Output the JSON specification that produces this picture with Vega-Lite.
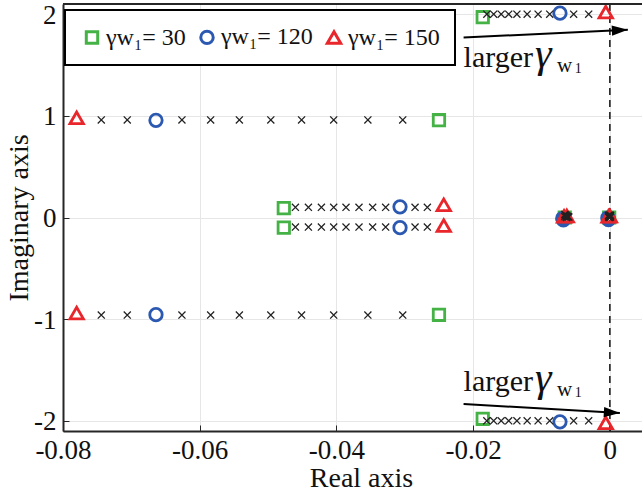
{
  "$schema": "https://vega.github.io/schema/vega-lite/v6.json",
  "width": 579,
  "height": 427,
  "autosize": {"type": "none"},
  "padding": {"left": 63, "top": 4, "right": 0, "bottom": 64},
  "background": "white",
  "config": {
    "font": "Liberation Serif",
    "view": {"stroke": null},
    "axis": {
      "grid": true,
      "gridColor": "#e6e6e6",
      "gridWidth": 1,
      "domainColor": "#262626",
      "domainWidth": 2,
      "tickColor": "#262626",
      "tickSize": -6,
      "tickWidth": 1,
      "labelFont": "Liberation Serif",
      "labelFontSize": 27,
      "labelColor": "#111111",
      "labelFlush": false,
      "labelOverlap": false,
      "labelBound": false,
      "titleFont": "Liberation Serif",
      "titleFontSize": 28,
      "titleFontWeight": "normal",
      "titleColor": "#111111"
    },
    "legend": {
      "labelFont": "Liberation Serif",
      "labelFontSize": 24,
      "labelColor": "#111111",
      "strokeColor": "black",
      "strokeWidth": 2,
      "fillColor": "white",
      "padding": 15,
      "columnPadding": 8,
      "symbolStrokeWidth": 3,
      "labelOffset": 2
    }
  },
  "datasets": {
    "poles": [
      {"gamma": "30", "re": -0.0250, "im": 0.957},
      {"gamma": "30", "re": -0.0250, "im": -0.957},
      {"gamma": "30", "re": -0.0477, "im": 0.092},
      {"gamma": "30", "re": -0.0477, "im": -0.100},
      {"gamma": "30", "re": -0.0186, "im": 1.970},
      {"gamma": "30", "re": -0.0186, "im": -1.980},
      {"gamma": "30", "re": -0.0066, "im": 0.000},
      {"gamma": "30", "re": -0.0001, "im": 0.000},
      {"gamma": "120", "re": -0.0664, "im": 0.956},
      {"gamma": "120", "re": -0.0664, "im": -0.956},
      {"gamma": "120", "re": -0.0307, "im": 0.105},
      {"gamma": "120", "re": -0.0307, "im": -0.100},
      {"gamma": "120", "re": -0.0073, "im": 2.010},
      {"gamma": "120", "re": -0.0073, "im": -2.010},
      {"gamma": "120", "re": -0.0069, "im": -0.010},
      {"gamma": "120", "re": -0.0068, "im": -0.023},
      {"gamma": "120", "re": -0.0003, "im": -0.005},
      {"gamma": "120", "re": -0.0002, "im": -0.020},
      {"gamma": "150", "re": -0.0780, "im": 0.980},
      {"gamma": "150", "re": -0.0780, "im": -0.940},
      {"gamma": "150", "re": -0.0243, "im": 0.125},
      {"gamma": "150", "re": -0.0243, "im": -0.080},
      {"gamma": "150", "re": -0.0006, "im": 2.020},
      {"gamma": "150", "re": -0.0006, "im": -2.020},
      {"gamma": "150", "re": -0.0067, "im": 0.012},
      {"gamma": "150", "re": -0.0063, "im": 0.015},
      {"gamma": "150", "re": -0.0002, "im": 0.012},
      {"gamma": "150", "re": 0.0000, "im": 0.015}
    ],
    "crosses": [
      {"re": -0.0744, "im": 0.96}, {"re": -0.0706, "im": 0.96}, {"re": -0.0626, "im": 0.96}, {"re": -0.0584, "im": 0.96}, {"re": -0.0542, "im": 0.96},
      {"re": -0.0496, "im": 0.96}, {"re": -0.0451, "im": 0.96}, {"re": -0.0404, "im": 0.96}, {"re": -0.0354, "im": 0.96}, {"re": -0.0303, "im": 0.96},
      {"re": -0.0744, "im": -0.96}, {"re": -0.0706, "im": -0.96}, {"re": -0.0626, "im": -0.96}, {"re": -0.0584, "im": -0.96}, {"re": -0.0542, "im": -0.96},
      {"re": -0.0496, "im": -0.96}, {"re": -0.0451, "im": -0.96}, {"re": -0.0404, "im": -0.96}, {"re": -0.0354, "im": -0.96}, {"re": -0.0303, "im": -0.96},
      {"re": -0.0460, "im": 0.10}, {"re": -0.0441, "im": 0.10}, {"re": -0.0422, "im": 0.10}, {"re": -0.0404, "im": 0.10}, {"re": -0.0386, "im": 0.10},
      {"re": -0.0367, "im": 0.10}, {"re": -0.0347, "im": 0.10}, {"re": -0.0328, "im": 0.10}, {"re": -0.0285, "im": 0.10}, {"re": -0.0267, "im": 0.10},
      {"re": -0.0460, "im": -0.094}, {"re": -0.0441, "im": -0.094}, {"re": -0.0422, "im": -0.094}, {"re": -0.0404, "im": -0.094}, {"re": -0.0386, "im": -0.094},
      {"re": -0.0367, "im": -0.094}, {"re": -0.0347, "im": -0.094}, {"re": -0.0328, "im": -0.094}, {"re": -0.0285, "im": -0.094}, {"re": -0.0267, "im": -0.094},
      {"re": -0.0180, "im": 2.0}, {"re": -0.0170, "im": 2.0}, {"re": -0.0159, "im": 2.0}, {"re": -0.0148, "im": 2.0}, {"re": -0.0136, "im": 2.0},
      {"re": -0.0121, "im": 2.0}, {"re": -0.0105, "im": 2.0}, {"re": -0.0088, "im": 2.0}, {"re": -0.0053, "im": 2.0}, {"re": -0.0031, "im": 2.0},
      {"re": -0.0180, "im": -2.0}, {"re": -0.0170, "im": -2.0}, {"re": -0.0159, "im": -2.0}, {"re": -0.0148, "im": -2.0}, {"re": -0.0136, "im": -2.0},
      {"re": -0.0121, "im": -2.0}, {"re": -0.0105, "im": -2.0}, {"re": -0.0088, "im": -2.0}, {"re": -0.0053, "im": -2.0}, {"re": -0.0031, "im": -2.0},
      {"re": -0.0066, "im": 0.030}, {"re": -0.0065, "im": 0.025}, {"re": -0.0064, "im": 0.020}, {"re": -0.0063, "im": 0.015}, {"re": -0.0062, "im": 0.010},
      {"re": -0.0061, "im": 0.008}, {"re": -0.0060, "im": 0.005}, {"re": -0.0064, "im": 0.003}, {"re": -0.0066, "im": 0.010}, {"re": -0.0063, "im": 0.000},
      {"re": -0.0002, "im": 0.020}, {"re": -0.0001, "im": 0.015}, {"re": 0.0000, "im": 0.010}, {"re": 0.0001, "im": 0.005}, {"re": -0.0001, "im": 0.000},
      {"re": 0.0000, "im": 0.025}, {"re": -0.0002, "im": 0.005}, {"re": 0.0001, "im": 0.020}, {"re": -0.0001, "im": 0.010}, {"re": 0.0000, "im": 0.003}
    ],
    "arrows": [
      {"re": -0.0214, "im": 1.770, "re2": 0.00263, "im2": 1.846},
      {"re": -0.0214, "im": -1.835, "re2": 0.00146, "im2": -1.923}
    ]
  },
  "encoding": {
    "x": {
      "field": "re", "type": "quantitative",
      "scale": {"domain": [-0.08, 0.0047], "nice": false, "zero": false},
      "axis": {
        "values": [-0.08, -0.06, -0.04, -0.02, 0],
        "labelExpr": "datum.value == 0 ? '0' : '-' + format(abs(datum.value), '.2f')",
        "labelPadding": 12,
        "title": "Real axis",
        "titleX": 298,
        "titleY": 47,
        "titleAlign": "center",
        "titleBaseline": "middle"
      }
    },
    "y": {
      "field": "im", "type": "quantitative",
      "scale": {"domain": [-2.1, 2.1], "nice": false, "zero": false},
      "axis": {
        "values": [-2, -1, 0, 1, 2],
        "labelExpr": "datum.value < 0 ? '-' + abs(datum.value) : '' + datum.value",
        "labelPadding": 13,
        "labelOffset": 1,
        "title": "Imaginary axis",
        "titleX": -44,
        "titleY": 213.5,
        "titleAngle": -90,
        "titleAlign": "center",
        "titleBaseline": "middle"
      }
    }
  },
  "layer": [
    {
      "data": {"values": [{"re": 0, "im": -2.1, "im2": 2.1}]},
      "mark": {"type": "rule", "color": "#111111", "strokeWidth": 1.5, "strokeDash": [7, 5]},
      "encoding": {"y2": {"field": "im2"}}
    },
    {
      "data": {"name": "poles"},
      "mark": {"type": "point", "filled": false, "strokeWidth": 2.8, "opacity": 1},
      "encoding": {
        "shape": {"field": "gamma", "type": "ordinal",
          "scale": {"domain": ["30", "120", "150"], "range": ["square", "circle", "triangle-up"]},
          "legend": {"title": null, "orient": "none", "legendX": 2, "legendY": 6, "direction": "horizontal", "labelExpr": "'γw₁= ' + datum.label"}},
        "color": {"field": "gamma", "type": "ordinal",
          "scale": {"domain": ["30", "120", "150"], "range": ["#45b245", "#2b58b0", "#e8262b"]},
          "legend": {"title": null, "orient": "none", "legendX": 2, "legendY": 6, "direction": "horizontal", "labelExpr": "'γw₁= ' + datum.label"}},
        "size": {"field": "gamma", "type": "ordinal",
          "scale": {"domain": ["30", "120", "150"], "range": [130, 180, 360]},
          "legend": {"title": null, "orient": "none", "legendX": 2, "legendY": 6, "direction": "horizontal", "labelExpr": "'γw₁= ' + datum.label"}}
      }
    },
    {
      "data": {"name": "crosses"},
      "mark": {"type": "point", "shape": "M-1,-1L1,1M-1,1L1,-1", "size": 50, "filled": false, "color": "#222222", "strokeWidth": 1.3, "opacity": 1}
    },
    {
      "data": {"name": "arrows"},
      "mark": {"type": "rule", "color": "black", "strokeWidth": 2},
      "encoding": {"x2": {"field": "re2"}, "y2": {"field": "im2"}}
    },
    {
      "data": {"values": [{"re": 0.00263, "im": 1.846}]},
      "mark": {"type": "point", "shape": "M0,0L-2,-0.65L-2,0.65Z", "size": 256, "filled": true, "color": "black", "opacity": 1, "angle": -2.7}
    },
    {
      "data": {"values": [{"re": 0.00146, "im": -1.923}]},
      "mark": {"type": "point", "shape": "M0,0L-2,-0.65L-2,0.65Z", "size": 256, "filled": true, "color": "black", "opacity": 1, "angle": 3.3}
    },
    {
      "data": {"values": [{"t": "larger", "re": -0.0214, "im": 1.482}, {"t": "larger", "re": -0.0214, "im": -1.711}]},
      "mark": {"type": "text", "align": "left", "baseline": "alphabetic", "fontSize": 30, "font": "Liberation Serif", "color": "#111111"},
      "encoding": {"text": {"field": "t"}}
    },
    {
      "data": {"values": [{"t": "γ", "re": -0.01097, "im": 1.482}, {"t": "γ", "re": -0.01097, "im": -1.711}]},
      "mark": {"type": "text", "align": "left", "baseline": "alphabetic", "fontSize": 42, "fontStyle": "italic", "font": "Liberation Serif", "color": "#111111"},
      "encoding": {"text": {"field": "t"}}
    },
    {
      "data": {"values": [{"t": "w", "re": -0.00775, "im": 1.433}, {"t": "w", "re": -0.00775, "im": -1.760}]},
      "mark": {"type": "text", "align": "left", "baseline": "alphabetic", "fontSize": 21, "font": "Liberation Serif", "color": "#111111"},
      "encoding": {"text": {"field": "t"}}
    },
    {
      "data": {"values": [{"t": "1", "re": -0.00512, "im": 1.423}, {"t": "1", "re": -0.00512, "im": -1.770}]},
      "mark": {"type": "text", "align": "left", "baseline": "alphabetic", "fontSize": 14, "font": "Liberation Serif", "color": "#111111"},
      "encoding": {"text": {"field": "t"}}
    },
    {
      "data": {"values": [{"re": -0.08, "re2": 0.0047, "im": 2.1}]},
      "mark": {"type": "rule", "color": "#262626", "strokeWidth": 2},
      "encoding": {"x2": {"field": "re2"}}
    }
  ]
}
